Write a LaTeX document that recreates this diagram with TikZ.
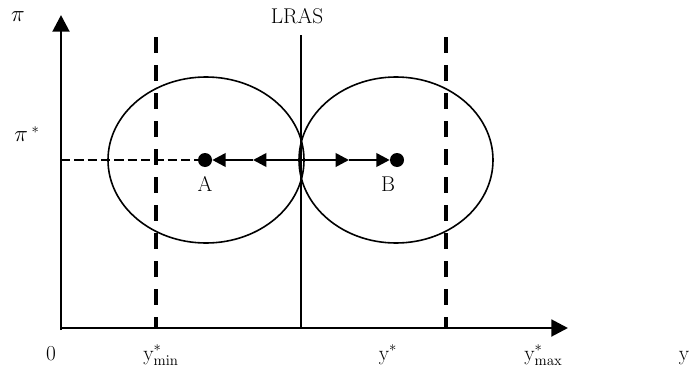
\documentclass[tikz,border=0pt]{standalone}
\usetikzlibrary{arrows.meta}
\begin{document}
\begin{tikzpicture}[x=0.75pt,y=-0.75pt,
  axis/.style={line width=2.2pt,-{Triangle[length=12.5pt,width=12.5pt]}},
  bound/.style={line width=3pt,dash pattern=on 12pt off 9pt},
  flow/.style={line width=2pt,-{Triangle[length=10pt,width=10pt]}},
  dot/.style={circle,fill,inner sep=0pt,minimum size=10.5pt},
  lbl/.style={font=\fontsize{16}{18}\selectfont,inner sep=0pt}]
  \useasboundingbox (0,0) rectangle (692,371);
  % axes
  \coordinate (O) at (61,328);
  \coordinate (ytop) at (61,15);
  \coordinate (xend) at (568,328);
  \draw[axis] (61,330) -- (ytop);
  \draw[axis] (60,328) -- (xend);
  % vertical lines
  \coordinate (lmin) at (156,37);
  \coordinate (lmax) at (446,37);
  \coordinate (lras) at (301,35);
  \draw[bound] (lmin) -- (lmin |- O);
  \draw[bound] (lmax) -- (lmax |- O);
  \draw[line width=2.2pt] (lras) -- (lras |- O);
  % ellipses
  \draw[line width=1.2pt] (206,160) ellipse [x radius=98, y radius=83];
  \draw[line width=1.2pt] (396,160) ellipse [x radius=97, y radius=83];
  % points A and B
  \node[dot] (A) at (205,160) {};
  \node[dot] (B) at (397,160) {};
  \coordinate (M) at (301,160);
  \coordinate (Ah) at (253,160);
  \coordinate (Bh) at (349,160);
  \coordinate (pist) at (61,160);
  \draw[line width=1.5pt,dash pattern=on 7pt off 3pt] (pist) -- (A);
  \draw[flow] (M) -- (Ah);
  \draw[flow] (Ah) -- (A);
  \draw[flow] (M) -- (Bh);
  \draw[flow] (Bh) -- (B);
  % labels
  \node[lbl] (pi) at (18,17) {$\pi$};
  \node[lbl] (pistar) at (27,134) {$\pi\,^{*}$};
  \node[lbl] (lA) at (205,184) {A};
  \node[lbl] (lB) at (388,184) {B};
  \node[lbl] (tLRAS) at (297,16) {LRAS};
  \node[lbl,anchor=base] (zero) at (51,360) {0};
  \node[lbl,anchor=base west] (ymin) at (143,360) {y$^{*}_{\mathrm{min}}$};
  \node[lbl,anchor=base] (ystar) at (388,360) {y$^{*}$};
  \node[lbl,anchor=base west] (ymax) at (524,360) {y$^{*}_{\mathrm{max}}$};
  \node[lbl,anchor=base] (ylab) at (684,360) {y};
\end{tikzpicture}
\end{document}
